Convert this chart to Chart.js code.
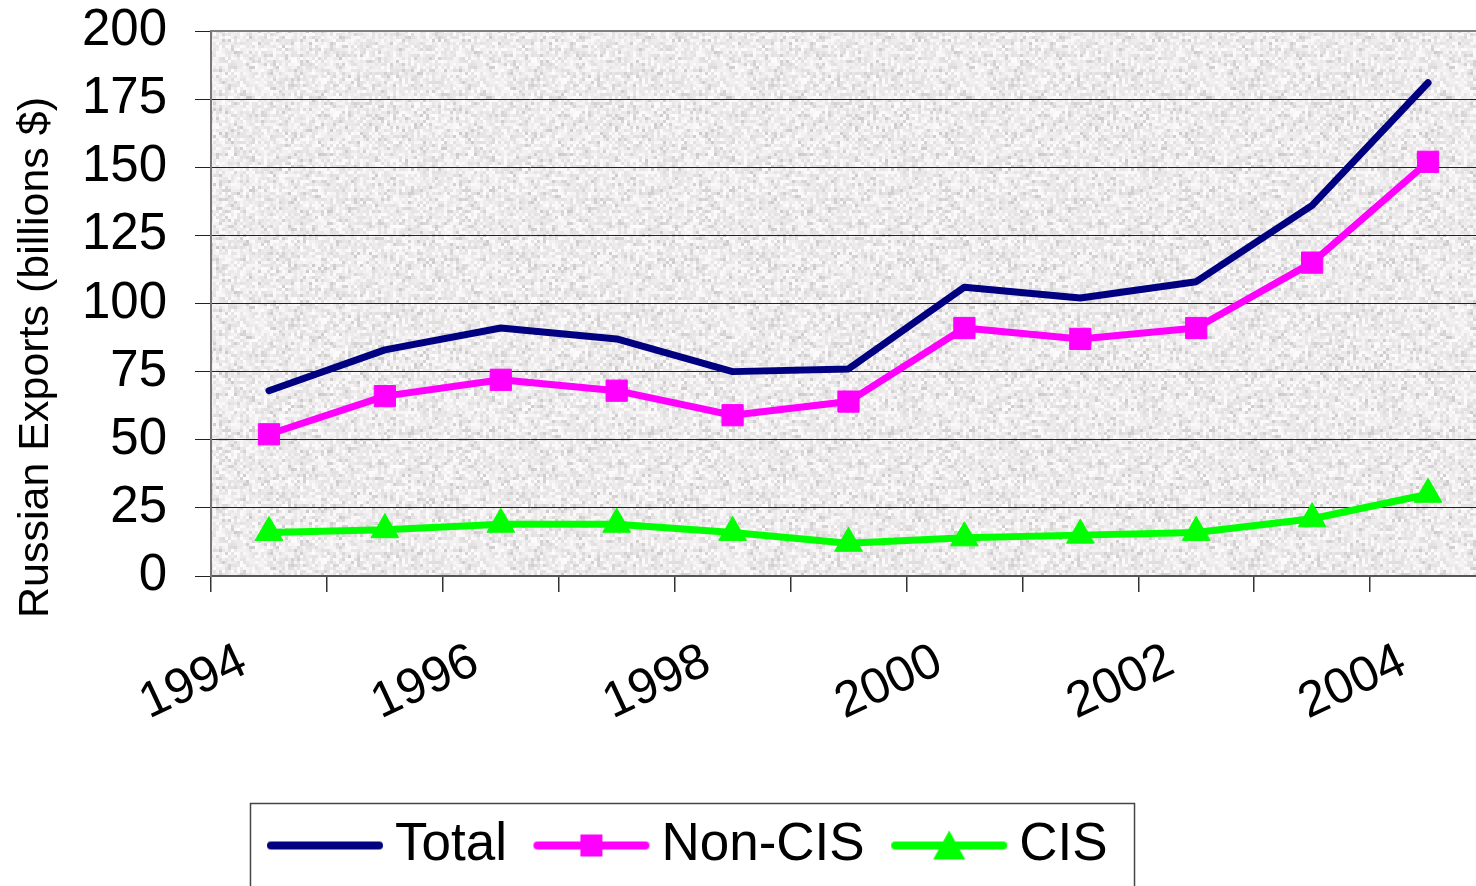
<!DOCTYPE html>
<html>
<head>
<meta charset="utf-8">
<script src="https://cdn.jsdelivr.net/npm/chart.js@4.4.1/dist/chart.umd.min.js"></script>
<style>
  html, body { margin: 0; padding: 0; background: #fff; overflow: hidden; }
  #wrap { width: 1503px; height: 886px; }
</style>
</head>
<body>
<div id="wrap"><canvas id="exportChart" width="1503" height="886"></canvas></div>
<script>
const years = ['1994', '1995', '1996', '1997', '1998', '1999', '2000', '2001', '2002', '2003', '2004'];
const totalExports = [68, 83, 91, 87, 75, 76, 106, 102, 108, 136, 181];
const nonCisExports = [52, 66, 72, 68, 59, 64, 91, 87, 91, 115, 152];
const cisExports = [16, 17, 19, 19, 16, 12, 14, 15, 16, 21, 30];
const yMin = 0, yMax = 200, yStep = 25;

const FONT = "'Liberation Sans', Arial, sans-serif";
Chart.defaults.font.family = FONT;
Chart.defaults.color = '#000';

// grey "granite" fill of the plot area (seeded so it is the same every run)
function makeGranite() {
  const c = document.createElement('canvas');
  c.width = 240; c.height = 240;
  const g = c.getContext('2d');
  let seed = 12345;
  const rnd = () => { seed = (seed * 16807) % 2147483647; return seed / 2147483647; };
  for (let y = 0; y < 240; y += 3) {
    for (let x = 0; x < 240; x += 3) {
      let v = 226 + Math.round(rnd() * 28);
      if (rnd() < 0.18) v -= 22;
      g.fillStyle = `rgb(${v},${v - 2},${v - 2})`;
      g.fillRect(x, y, 3, 3);
    }
  }
  return c;
}
const granite = makeGranite();

const plotBackground = {
  id: 'plotBackground',
  beforeDraw(chart) {
    const {ctx, chartArea: a} = chart;
    ctx.save();
    ctx.fillStyle = ctx.createPattern(granite, 'repeat');
    ctx.fillRect(a.left, a.top, a.right - a.left, a.bottom - a.top);
    ctx.restore();
  },
  afterDatasetsDraw(chart) {
    const {ctx, chartArea: a} = chart;
    ctx.save();
    ctx.strokeStyle = '#808080';
    ctx.lineWidth = 2;
    ctx.beginPath();
    ctx.moveTo(a.left, a.top);
    ctx.lineTo(a.right, a.top);
    ctx.stroke();
    ctx.restore();
  }
};

// legend: line + marker swatches
function legendSwatch(color, marker) {
  const c = document.createElement('canvas');
  c.width = 118; c.height = 36;
  const g = c.getContext('2d');
  g.strokeStyle = color;
  g.fillStyle = color;
  g.lineWidth = 8;
  g.lineCap = 'round';
  g.beginPath();
  g.moveTo(5, 18);
  g.lineTo(113, 18);
  g.stroke();
  if (marker === 'rect') g.fillRect(48, 7, 22, 22);
  if (marker === 'triangle') {
    g.beginPath();
    g.moveTo(59, 3);
    g.lineTo(75, 32);
    g.lineTo(43, 32);
    g.closePath();
    g.fill();
  }
  return c;
}

const legendFrame = {
  id: 'legendFrame',
  afterLayout(chart) {
    chart.legend.left -= 57;
    chart.legend.right -= 57;
  },
  afterDraw(chart) {
    const hb = chart.legend.legendHitBoxes;
    if (!hb || !hb.length) return;
    const first = hb[0], last = hb[hb.length - 1];
    const x0 = first.left - 31;
    const x1 = last.left + last.width + 27;
    const y0 = first.top + first.height / 2 - 42;
    const ctx = chart.ctx;
    ctx.save();
    ctx.strokeStyle = '#444';
    ctx.lineWidth = 1.5;
    ctx.strokeRect(x0, y0, x1 - x0, chart.height - y0 + 20);
    ctx.restore();
  }
};

function shiftYTitle(scale) {
  if (scale._titleShifted) return;
  const orig = scale.drawTitle;
  scale.drawTitle = function () {
    this.ctx.save();
    this.ctx.translate(0, 54);
    orig.apply(this, arguments);
    this.ctx.restore();
  };
  scale._titleShifted = true;
}

const swatches = [
  legendSwatch('#000080', null),
  legendSwatch('#ff00ff', 'rect'),
  legendSwatch('#00ff00', 'triangle')
];

const ctx = document.getElementById('exportChart').getContext('2d');
const chart = new Chart(ctx, {
  type: 'line',
  data: {
    labels: years,
    datasets: [
      { label: 'Total', data: totalExports, borderColor: '#000080', backgroundColor: '#000080',
        borderWidth: 7, pointRadius: 0, pointHoverRadius: 0 },
      { label: 'Non-CIS', data: nonCisExports, borderColor: '#ff00ff', backgroundColor: '#ff00ff',
        borderWidth: 7, pointStyle: 'rect', pointRadius: 15, pointBorderWidth: 1 },
      { label: 'CIS', data: cisExports, borderColor: '#00ff00', backgroundColor: '#00ff00',
        borderWidth: 7, pointStyle: 'triangle', pointRadius: 16, pointBorderWidth: 1 }
    ]
  },
  options: {
    responsive: false,
    animation: false,
    devicePixelRatio: 1,
    layout: { padding: { left: 0, right: 0, top: 31, bottom: 4 } },
    elements: { line: { tension: 0, borderJoinStyle: 'round', borderCapStyle: 'round', fill: false } },
    plugins: {
      tooltip: { enabled: false },
      legend: {
        position: 'bottom',
        labels: {
          usePointStyle: true,
          pointStyleWidth: 87,
          padding: 41,
          color: '#000',
          font: { size: 53, family: FONT },
          generateLabels(chart) {
            return chart.data.datasets.map((ds, i) => ({
              text: ds.label, pointStyle: swatches[i], fillStyle: ds.borderColor,
              strokeStyle: ds.borderColor, lineWidth: 0, hidden: false, datasetIndex: i
            }));
          }
        }
      }
    },
    scales: {
      x: {
        offset: true,
        grid: { offset: true, drawOnChartArea: false, drawTicks: true, tickLength: 16, color: '#333', lineWidth: 1.5 },
        border: { color: '#555', width: 2 },
        ticks: {
          autoSkip: false, minRotation: 25, maxRotation: 25, padding: 40, labelOffset: -25,
          color: '#000', font: { size: 50 },
          callback: (v, i) => (i % 2 === 0 ? years[i] : '')
        },
        afterFit: s => { s.height = 202; s.paddingLeft = 0; s.paddingRight = 0; }
      },
      y: {
        min: yMin, max: yMax,
        ticks: { stepSize: yStep, autoSkip: false, padding: 28, color: '#000', font: { size: 51 } },
        grid: { color: '#222', lineWidth: 1, tickLength: 16 },
        border: { color: '#777', width: 2 },
        title: { display: true, text: 'Russian Exports (billions $)', color: '#000',
                 font: { size: 43 }, padding: { top: 10, bottom: 0 } },
        afterFit: s => { s.width = 211; s.paddingTop = 0; s.paddingBottom = 0; },
        afterUpdate: shiftYTitle
      }
    }
  },
  plugins: [plotBackground, legendFrame]
});
</script>
</body>
</html>
